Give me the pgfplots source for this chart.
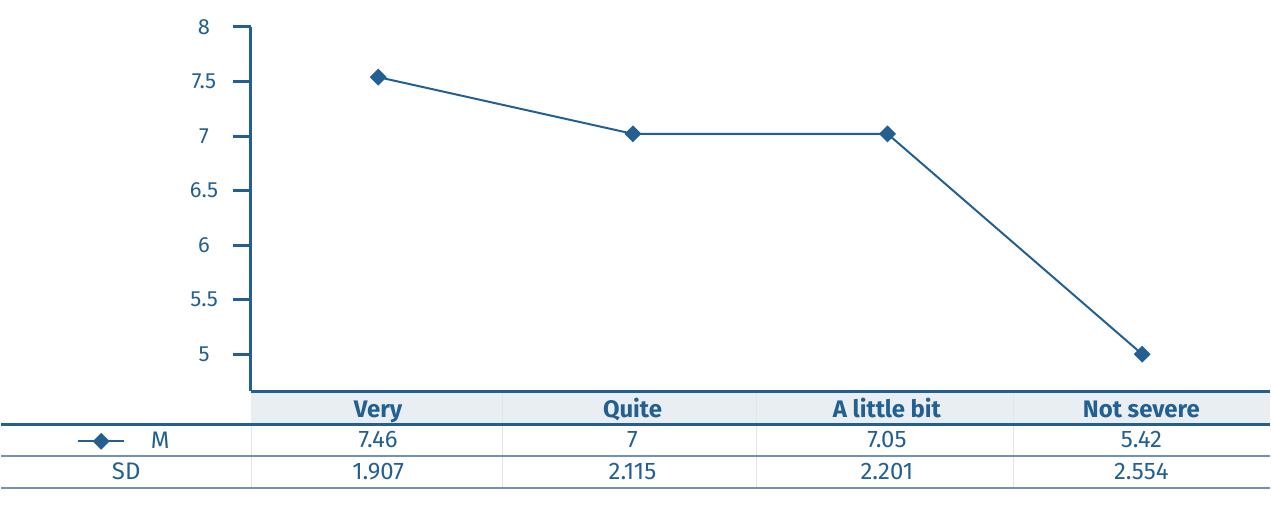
\documentclass[border=0pt]{standalone}
\usepackage{pgfplots}
\pgfplotsset{compat=1.18}
\usepackage{fontspec}
\setmainfont{Fira Sans}
\definecolor{mainblue}{RGB}{35,96,145}
\definecolor{rowline}{RGB}{112,146,182}
\definecolor{headfill}{RGB}{233,238,243}
\definecolor{sepline}{RGB}{222,229,237}
\begin{document}
\begin{tikzpicture}
% fixed page size: 1271 x 517 px at 0.5pt per px
\begin{scope}[x=0.5pt,y=-0.5pt]
  \path (0,0) rectangle (1271,517);
  \fill[headfill] (250,393) rectangle (1271,424);
  \foreach \xs in {502,757,1014}
    \draw[white!85!mainblue, line width=0.5pt] (\xs,393) -- (\xs,424);
  \foreach \xs in {250,502,757,1014}
    \draw[sepline, line width=0.4pt] (\xs,426) -- (\xs,489);
  \draw[mainblue, line width=1.5pt] (0,425.5) -- (1271,425.5);
  \draw[rowline, line width=1pt] (0,457.5) -- (1271,457.5);
  \draw[rowline, line width=1pt] (0,489.5) -- (1271,489.5);
  \begin{scope}[every node/.style={text=mainblue, font=\fontsize{12}{14}\selectfont, anchor=base, inner sep=0pt}]
    \foreach \xc/\lab in {377.5/Very, 632.5/Quite, 887.5/A little bit, 1142.5/Not severe}
      \node[font=\fontsize{12}{14}\selectfont\bfseries] at (\xc,418) {\lab};
    \foreach \xc/\val in {377.5/7.46, 632.5/7, 887.5/7.05, 1142.5/5.42}
      \node at (\xc,449) {\val};
    \foreach \xc/\val in {377.5/1.907, 632.5/2.115, 887.5/2.201, 1142.5/2.554}
      \node at (\xc,481) {\val};
    \node at (125,481) {SD};
  \end{scope}
\end{scope}
\begin{axis}[
    at={(125pt,-196pt)}, anchor=south west,
    scale only axis,
    width=510.5pt, height=182.5pt,
    xmin=0.5, xmax=4.5,
    ymin=4.662, ymax=8,
    axis x line=bottom, axis y line=left,
    axis line style={-, line width=1.5pt, mainblue},
    xtick=\empty,
    ytick={5,5.5,6,6.5,7,7.5,8},
    tick align=outside,
    major tick length=9pt,
    tick style={line width=1.5pt, mainblue},
    yticklabel style={anchor=center, xshift=-14.5pt, text=mainblue, font=\fontsize{11}{13}\selectfont},
    /pgf/number format/assume math mode=true,
    clip=false,
    legend style={at={(-0.1707,-0.138)}, anchor=west, draw=none, fill=none,
      inner sep=0pt, nodes={inner sep=0pt, text=mainblue, font=\fontsize{12}{14}\selectfont},
      /tikz/every odd column/.append style={column sep=13pt}},
    legend image code/.code={
      \draw[mark repeat=2, mark phase=2] plot coordinates {(0cm,0cm) (0.4cm,0cm) (0.8cm,0cm)};
    },
]
\addplot[mainblue, line width=1pt, mark=square*, mark size=2.5pt, mark options={solid, rotate=45}]
  coordinates {(1,7.54) (2,7.02) (3,7.02) (4,5.0)};
\addlegendentry{M}
\end{axis}
\end{tikzpicture}
\end{document}
